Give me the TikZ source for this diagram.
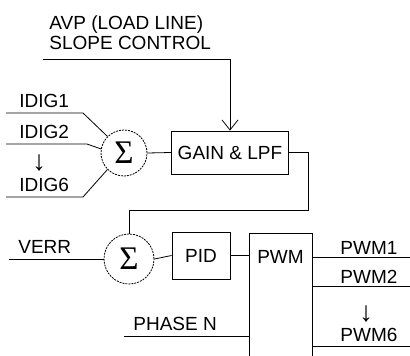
\documentclass[tikz,border=0pt]{standalone}
\usepackage{fontspec}
\setmainfont{Liberation Sans}
\newfontfamily\sigmafont{Liberation Serif}
\usetikzlibrary{arrows.meta}
\begin{document}
\begin{tikzpicture}[x=1pt,y=-1pt,line width=0.8pt,
	block/.style={draw,inner sep=0pt,font=\fontsize{19}{20}\selectfont},
	sum/.style={circle,draw,dash pattern=on 2pt off 1pt,inner sep=0pt,font=\sigmafont\fontsize{33}{33}\selectfont},
	lbl/.style={inner sep=0pt,font=\fontsize{19}{20}\selectfont},
	dots/.style={inner sep=0pt,font=\fontsize{28}{28}\selectfont}]
		%\draw [help lines] (0,0) grid (410,356);
		\useasboundingbox (0,0) rectangle (410,356);
		\clip (0,0) rectangle (410,356);
		\def\xout{410}
		% blocks
			\node [block,minimum width=117pt,minimum height=43pt] (gain) at (230,152.5) {GAIN \& LPF};
			\node [block,minimum width=58pt,minimum height=47pt] (pid) at (201,255.5) {PID};
			\node [block,minimum width=63pt,minimum height=160pt,anchor=north,
				label={[lbl,anchor=north,yshift=-17pt]north:PWM}] (pwm) at (280.5,233) {};
		% summing points
			\node [sum,minimum size=46pt] (sumi) at (124,153) {Σ};
			\node [sum,minimum size=50pt] (sumv) at (129,259) {Σ};
		% labels
			\node [lbl,anchor=west,align=left] (avp) at (49,33) {AVP (LOAD LINE)\\SLOPE CONTROL};
			\node [lbl,anchor=west] (idig1) at (19,100.5) {IDIG1};
			\node [lbl,anchor=west] (idig2) at (19,132) {IDIG2};
			\node [dots] (idigdots) at (39,163) {↓};
			\node [lbl,anchor=west] (idig6) at (19,185) {IDIG6};
			\node [lbl,anchor=west] (verr) at (18,247) {VERR};
			\node [lbl,anchor=west] (phase) at (133,324) {PHASE N};
			\node [lbl,anchor=west] (pwm1) at (340,248) {PWM1};
			\node [lbl,anchor=west] (pwm2) at (340,277) {PWM2};
			\node [dots] (pwmdots) at (366,314) {↓};
			\node [lbl,anchor=west] (pwm6) at (340,335) {PWM6};
		% free ends
			\coordinate (avpin) at (43,59);
			\coordinate (i1) at (6,113);
			\coordinate (i2) at (6,144);
			\coordinate (i6) at (6,197);
			\coordinate (vin) at (9,259);
			\coordinate (phin) at (124,336);
		% inputs
			\draw [-{Straight Barb[length=10pt,width=16pt]}] (avpin) -| (gain.north);
			\draw (i1) -- (83,113) -- (sumi.135);
			\draw (i2) -- (87,144) -- (sumi.170);
			\draw (i6) -- (83,197) -- (sumi.225);
			\draw (vin) -- (sumv.west);
			\draw (phin) -- (phin -| pwm.west);
		% signal path
			\draw (sumi.east) -- (gain.west);
			\draw (gain.east) -| (308,210) -| (sumv.north);
			\draw (sumv.east) -- (pid.west);
			\draw (pid.east) -- (pid.east -| pwm.west);
		% outputs
			\foreach \y [count=\i] in {257,286,346}{
				\coordinate (o\i) at (\xout,\y);
				\draw (o\i -| pwm.east) -- (o\i);
			}
	\end{tikzpicture}
\end{document}
